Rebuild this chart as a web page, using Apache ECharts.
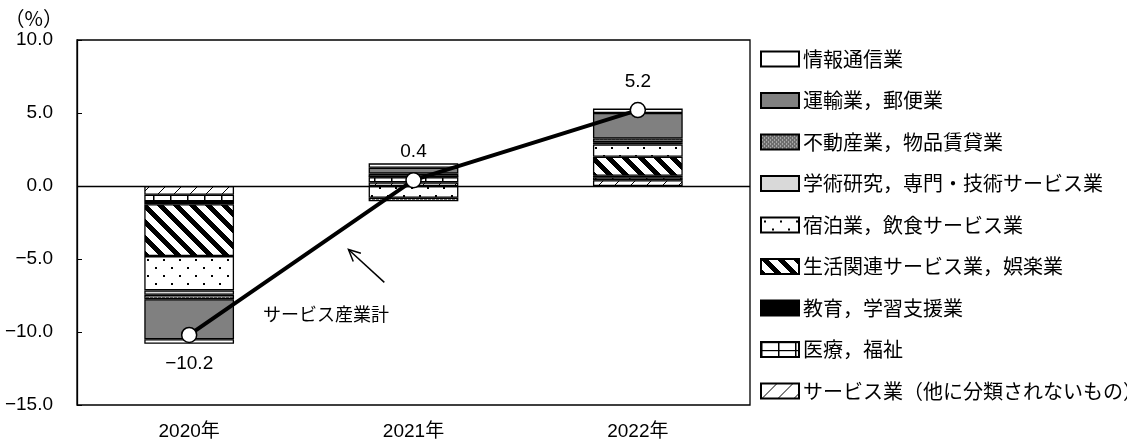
<!DOCTYPE html>
<html><head><meta charset="utf-8">
<script src="https://cdn.jsdelivr.net/npm/echarts@6/dist/echarts.min.js"></script>
<style>html,body{margin:0;padding:0;background:#fff}#c{width:1127px;height:443px}</style>
</head><body><div id="c"></div>
<script>
const categories = ['2020年', '2021年', '2022年'];
const infoComm   = [-0.3, 0.3, 0.3];
const transport  = [-2.75, 0.4, 1.75];
const realEstate = [-0.3, -0.25, 0.25];
const academic   = [-0.3, 0.2, 0.15];
const lodging    = [-2.35, -0.8, 0.85];
const living     = [-3.55, 0, 1.3];
const education  = [-0.15, 0.05, 0.1];
const medical    = [-0.5, 0.35, 0.2];
const otherSvc   = [-0.6, 0.25, 0.4];
const total      = [-10.2, 0.4, 5.2];
const yTicks = [-15, -10, -5, 0, 5, 10];
const names = ['情報通信業', '運輸業，郵便業', '不動産業，物品賃貸業', '学術研究，専門・技術サービス業', '宿泊業，飲食サービス業', '生活関連サービス業，娯楽業', '教育，学習支援業', '医療，福祉', 'サービス業（他に分類されないもの）'];
const totalName = 'サービス産業計';

function mk(w, h, draw) {
  const c = document.createElement('canvas'); c.width = w; c.height = h;
  const g = c.getContext('2d'); g.fillStyle = '#fff'; g.fillRect(0, 0, w, h); draw(g, w, h);
  return { image: c, repeat: 'repeat' };
}
const pat = {
  real: mk(4, 4, g => { g.fillStyle = '#6e6e6e'; g.fillRect(0, 0, 4, 4); g.fillStyle = '#e0e0e0'; g.fillRect(1, 1, 1, 1); g.fillRect(3, 3, 1, 1); }),
  dots: mk(16, 16, g => { g.fillStyle = '#000'; g.fillRect(3, 3, 2, 2); g.fillRect(11, 11, 2, 2); }),
  stripes: mk(16, 16, g => { g.fillStyle = '#000'; for (let x = 0; x < 16; x++) for (let y = 0; y < 16; y++) { if ((((x - y) % 16) + 16) % 16 < 7) g.fillRect(x, y, 1, 1); } }),
  grid: mk(17, 8, g => { g.fillStyle = '#000'; g.fillRect(0, 0, 1.5, 8); g.fillRect(0, 0, 17, 1.2); }),
  hatch: mk(16, 16, g => { g.strokeStyle = '#000'; g.lineWidth = 1; g.beginPath(); for (let k = -16; k <= 32; k += 16) { g.moveTo(k, 16); g.lineTo(k + 16, 0); } g.stroke(); })
};

const fontMain = '"Liberation Sans", "Noto Sans CJK JP", sans-serif';
const fontJP = '"Noto Sans CJK JP", sans-serif';
const fmt = v => (v < 0 ? '−' : '') + Math.abs(v).toFixed(1);

function bar(name, data, color, extra) {
  return Object.assign({
    name, type: 'bar', stack: 'all', data, barWidth: '40%',
    itemStyle: { color, borderColor: '#000', borderWidth: 1.3 },
    emphasis: { disabled: true }
  }, extra || {});
}

const series = [
  bar(names[8], otherSvc, pat.hatch, { markLine: { silent: true, symbol: 'none', data: [{ yAxis: 0 }], label: { show: false }, lineStyle: { color: '#000', width: 1.3, type: 'solid' } } }),
  bar(names[7], medical, pat.grid),
  bar(names[6], education, '#000'),
  bar(names[5], living, pat.stripes),
  bar(names[4], lodging, pat.dots),
  bar(names[3], academic, '#d9d9d9'),
  bar(names[2], realEstate, pat.real),
  bar(names[1], transport, '#808080'),
  bar(names[0], infoComm, '#ffffff'),
  {
    name: totalName, type: 'line', z: 10,
    lineStyle: { color: '#000', width: 4 },
    symbol: 'circle', symbolSize: 15,
    itemStyle: { color: '#fff', borderColor: '#000', borderWidth: 1.5 },
    label: {
      show: true, fontSize: 19, fontFamily: fontMain, color: '#000', distance: 11,
      position: 'top', formatter: p => fmt(p.value)
    },
    data: total.map(v => ({ value: v, label: { position: v < 0 ? 'bottom' : 'top' } })),
    emphasis: { disabled: true }
  }
];

const chart = echarts.init(document.getElementById('c'));
chart.setOption({
  animation: false,
  grid: { left: 77, right: 377, top: 40, bottom: 38, show: true, borderColor: '#000', borderWidth: 1.3, backgroundColor: 'transparent' },
  xAxis: {
    type: 'category', data: categories,
    axisLine: { show: false, onZero: false }, axisTick: { show: false },
    axisLabel: { fontSize: 19, color: '#000', fontFamily: fontMain, margin: 17 }
  },
  yAxis: {
    type: 'value', min: yTicks[0], max: yTicks[yTicks.length - 1], interval: 5,
    name: '（%）', nameLocation: 'end', nameGap: 12,
    nameTextStyle: { fontSize: 20, color: '#000', fontFamily: fontJP, align: 'right', padding: [0, 14, 0, 0] },
    axisLine: { show: true, lineStyle: { color: '#000', width: 1.3 } },
    axisTick: { show: true, inside: true, length: 5, lineStyle: { color: '#000' } },
    splitLine: { show: false },
    axisLabel: { fontSize: 19, color: '#000', fontFamily: fontMain, margin: 24, formatter: v => fmt(v) }
  },
  legend: {
    orient: 'vertical', left: 755, top: 44, itemWidth: 38, itemHeight: 15, itemGap: 21.5,
    icon: 'rect', data: names,
    textStyle: { fontSize: 20, color: '#000', fontFamily: fontJP, lineHeight: 20, padding: [0, 0, 0, -1] },
    selectedMode: false
  },
  series
});

// annotation placed relative to the chart's own scales
function pos(ci, v) {
  const a = chart.convertToPixel({ xAxisIndex: 0, yAxisIndex: 0 }, [Math.floor(ci), v]);
  const b = chart.convertToPixel({ xAxisIndex: 0, yAxisIndex: 0 }, [Math.floor(ci) + 1, v]);
  const f = ci - Math.floor(ci);
  return [a[0] + (b[0] - a[0]) * f, a[1]];
}
const head = pos(0.71, -4.35), tail = pos(0.87, -6.6), txt = pos(0.61, -8.8);
const ang = Math.atan2(head[1] - tail[1], head[0] - tail[0]);
const L = 13, sp = 0.45;
chart.setOption({
  graphic: [
    { type: 'line', shape: { x1: tail[0], y1: tail[1], x2: head[0], y2: head[1] }, style: { stroke: '#000', lineWidth: 1.5 } },
    { type: 'polyline', shape: { points: [[head[0] - L * Math.cos(ang - sp), head[1] - L * Math.sin(ang - sp)], head, [head[0] - L * Math.cos(ang + sp), head[1] - L * Math.sin(ang + sp)]] }, style: { stroke: '#000', lineWidth: 1.5, fill: null } },
    { type: 'text', x: txt[0], y: txt[1], style: { text: totalName, fontSize: 18, fontFamily: fontJP, fill: '#000', align: 'center', verticalAlign: 'middle' } }
  ]
});
</script></body></html>
